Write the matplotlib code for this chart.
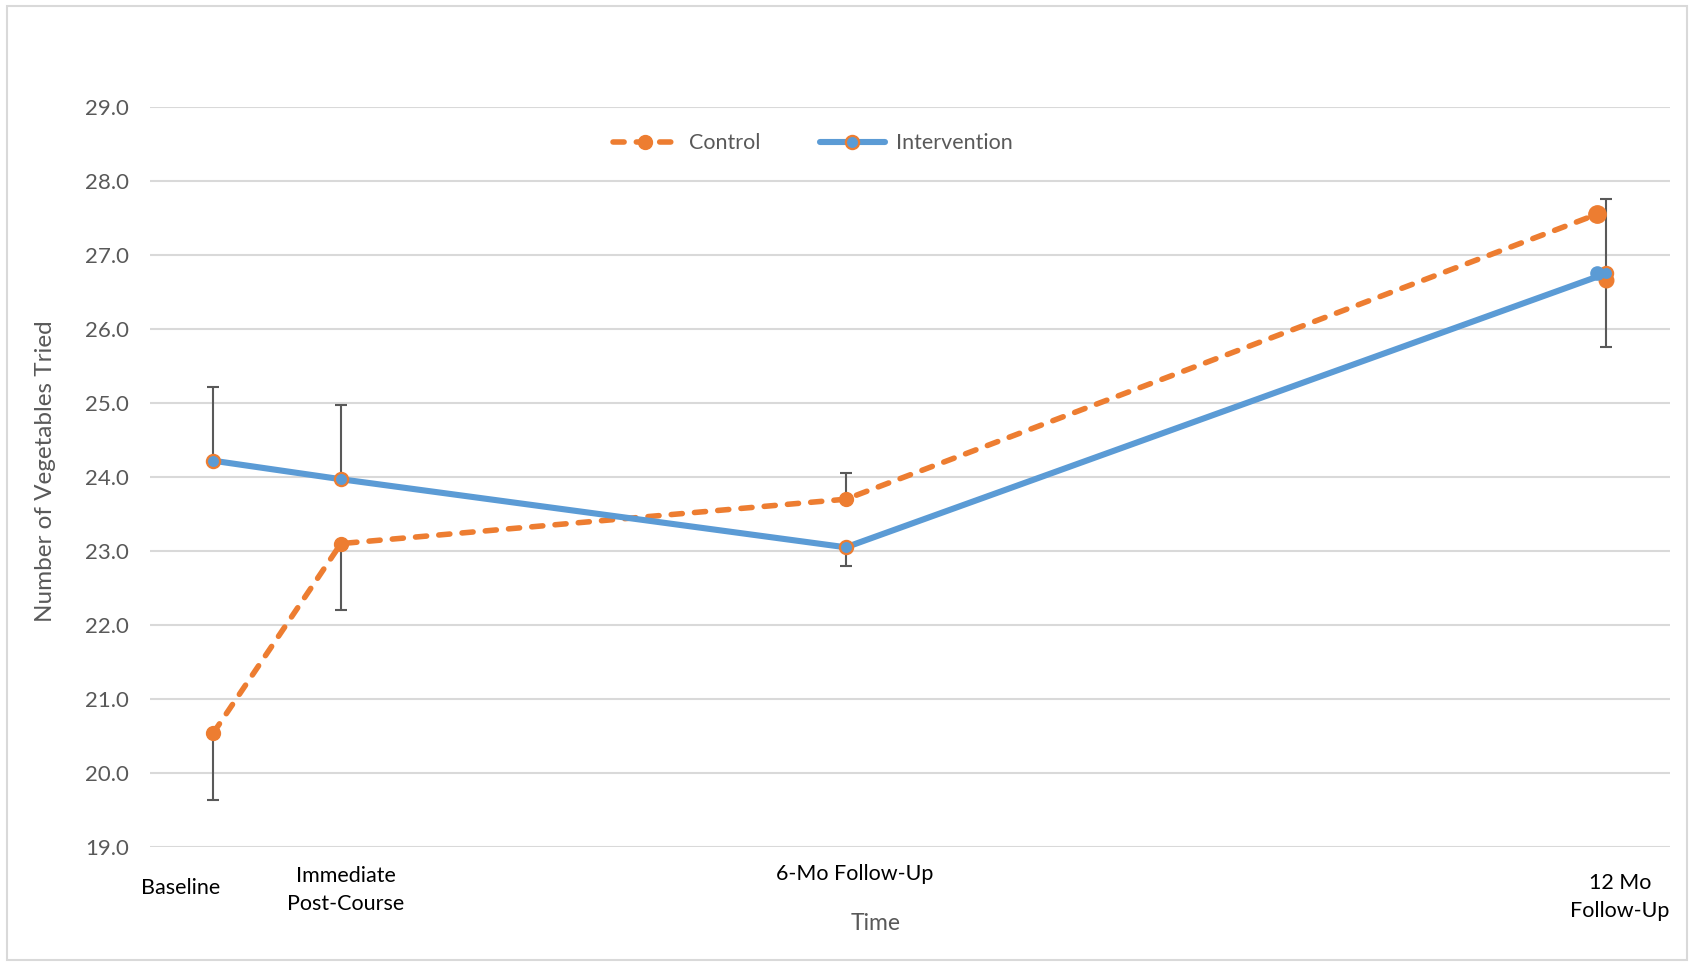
import matplotlib
matplotlib.use("Agg")
import matplotlib.pyplot as plt
import matplotlib.transforms as mtransforms
from matplotlib.patches import Rectangle

# ---- data ----
categories = ["Baseline", "Immediate\nPost-Course", "6-Mo Follow-Up", "12 Mo\nFollow-Up"]
months_intervention = [0, 1.1, 5.45, 12]
months_control = [0, 1.1, 5.45, 11.92]
control = [20.54, 23.10, 23.70, 27.55]
intervention = [24.22, 23.97, 23.05, 26.75]
control_err_low = [0.90, 0.90, 0.0, 0.0]
control_err_high = [0.0, 0.0, 0.35, 0.0]
intervention_err_low = [0.0, 0.0, 0.25, 1.0]
intervention_err_high = [1.0, 1.0, 0.0, 1.0]
yticks = [19, 20, 21, 22, 23, 24, 25, 26, 27, 28, 29]

ORANGE = "#ED7D31"
BLUE = "#5B9BD5"
GRAY = "#595959"
FONT = ["Lato", "DejaVu Sans"]
plt.rcParams['font.family'] = FONT

W, H = 1692, 964
fig = plt.figure(figsize=(W / 100, H / 100), dpi=100)
ax = fig.add_axes([150 / W, 1 - 847 / H, (1670 - 150) / W, (847 - 107) / H])

# chart border
fig.patches.append(Rectangle((7 / W, 4 / H), (W - 12) / W, (H - 10) / H,
                             transform=fig.transFigure, fill=False,
                             edgecolor="#d9d9d9", linewidth=1.5))

ax.set_xlim(-0.545, 12.55)
ax.set_ylim(19, 29)
ax.set_yticks(yticks)
ax.set_yticklabels([f"{v:.1f}" for v in yticks], color=GRAY, fontsize=16)
ax.set_xticks([])
ax.tick_params(axis="y", length=0, pad=15)
for s in ax.spines.values():
    s.set_visible(False)
ax.grid(axis="y", color="#d9d9d9", linewidth=1.5)
ax.set_axisbelow(True)

# error bars
ax.errorbar(months_intervention, intervention,
            yerr=[intervention_err_low, intervention_err_high],
            fmt="none", ecolor=GRAY, elinewidth=1.5, capsize=4, capthick=1.5, zorder=2)
ax.errorbar(months_control, control,
            yerr=[control_err_low, control_err_high],
            fmt="none", ecolor=GRAY, elinewidth=1.5, capsize=4, capthick=1.5, zorder=2)

# lines
lc, = ax.plot(months_control, control, color=ORANGE, lw=4.0,
              linestyle=(0, (2.0, 2.2)), dash_capstyle="round",
              marker="o", markersize=10, markerfacecolor=ORANGE,
              markeredgecolor=ORANGE, label="Control", zorder=3)
ax.plot(months_control[-1], control[-1], "o", color=ORANGE, markersize=12.5, zorder=3)
ax.plot(months_intervention[-1], intervention[-1] - 0.09, "o", color=ORANGE,
        markersize=10.5, zorder=3.5)
li, = ax.plot(months_intervention, intervention, color=BLUE, lw=4.4,
              solid_capstyle="round",
              marker="o", markersize=9.5, markerfacecolor=BLUE,
              markeredgecolor=ORANGE, markeredgewidth=1.6,
              label="Intervention", zorder=4)
ax.plot(months_control[-1], intervention[-1], "o", color=BLUE, markersize=9.5, zorder=4)

leg = ax.legend(handles=[lc, li], loc="center", bbox_to_anchor=(0.436, 0.951),
                ncol=2, frameon=False, fontsize=15.5, handlelength=3.0,
                handletextpad=0.5, columnspacing=2.8)
for t in leg.get_texts():
    t.set_color(GRAY)

# category labels
label_x = [-0.28, 1.14, 5.53, 12.12]
label_y = [888, 890, 874, 897]
trans = mtransforms.blended_transform_factory(ax.transData, fig.transFigure)
for lbl, x, y in zip(categories, label_x, label_y):
    ax.text(x, 1 - y / H, lbl, transform=trans, ha="center", va="center",
            fontsize=15.5, color="black", linespacing=1.45)

fig.text(876 / W, 1 - 924 / H, "Time", ha="center", va="center", fontsize=16.5, color=GRAY)
fig.text(45 / W, 1 - 471 / H, "Number of Vegetables Tried", ha="center", va="center",
         rotation=90, fontsize=17.5, color=GRAY)

fig.savefig("out.png", dpi=100)
